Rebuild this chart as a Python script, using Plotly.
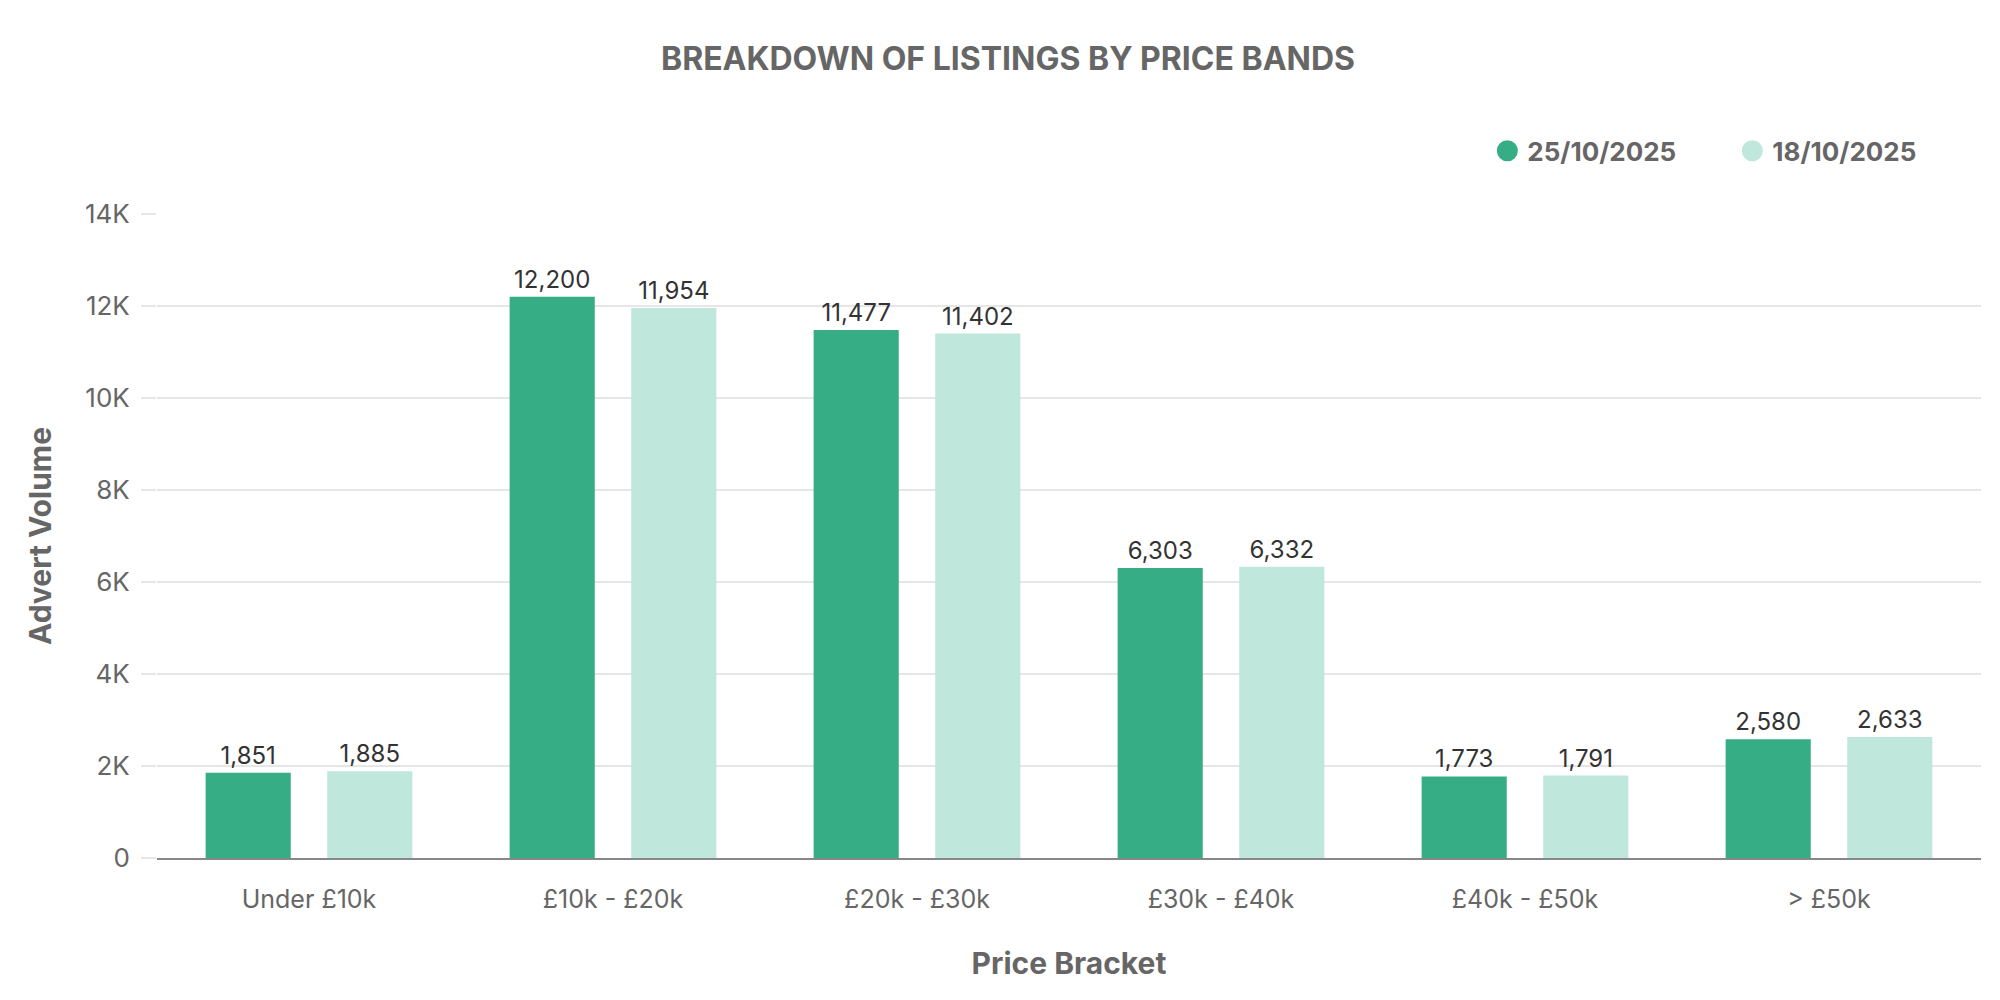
import plotly.graph_objects as go

# price bands and advert counts for the two snapshot dates
brackets = ["Under £10k", "£10k - £20k", "£20k - £30k", "£30k - £40k", "£40k - £50k", "> £50k"]
week_25_oct = [1851, 12200, 11477, 6303, 1773, 2580]
week_18_oct = [1885, 11954, 11402, 6332, 1791, 2633]
series_names = ["25/10/2025", "18/10/2025"]
y_ticks = [0, 2000, 4000, 6000, 8000, 10000, 12000, 14000]
y_tick_text = ["0", "2K", "4K", "6K", "8K", "10K", "12K", "14K"]

dark = "#36ad84"
light = "#bfe7dc"
font = "Inter"

fig = go.Figure()
for vals, col in [(week_25_oct, dark), (week_18_oct, light)]:
    fig.add_trace(go.Bar(
        x=brackets, y=vals,
        marker=dict(color=col, line=dict(width=0)),
        text=["{:,}".format(v) for v in vals],
        textposition="outside",
        textfont=dict(family=font, size=24, color="#333333"),
        cliponaxis=False,
        showlegend=False,
    ))

# circle markers for the legend (outline makes the dot a bit bigger)
for name, col in zip(series_names, [dark, light]):
    fig.add_trace(go.Scatter(
        x=[None], y=[None], mode="markers", name=name,
        marker=dict(color=col, size=24, symbol="circle", line=dict(color=col, width=5)),
    ))

fig.update_layout(
    width=2000, height=1000,
    paper_bgcolor="white", plot_bgcolor="white",
    margin=dict(l=149, r=27, t=206, b=150),
    barmode="group", bargap=0.2, bargroupgap=0.3,
    font=dict(family=font, color="#666666"),
    title=dict(text="<b>BREAKDOWN OF LISTINGS BY PRICE BANDS</b>",
               x=0.5, xanchor="center", y=0.949, yanchor="middle",
               font=dict(size=32, color="#666666")),
    legend=dict(orientation="h", x=0.998, xanchor="right", y=1.098, yanchor="middle",
                font=dict(size=26, color="#666666", weight="bold"),
                itemsizing="trace", itemwidth=30, entrywidth=200,
                bgcolor="rgba(0,0,0,0)"),
)
fig.update_xaxes(
    showgrid=False, showline=True, linecolor="#888888", linewidth=2,
    ticks="", ticklabelstandoff=18,
    tickfont=dict(size=25, color="#666666"),
    title=dict(text="<b>Price Bracket</b>", font=dict(size=30, color="#666666"), standoff=40),
)
fig.update_yaxes(
    range=[0, 14000], tickvals=y_ticks, ticktext=y_tick_text,
    showgrid=True, gridcolor="#e6e6e6", gridwidth=1.5, zeroline=False,
    ticks="outside", ticklen=15, tickcolor="#e6e6e6", tickwidth=1.5,
    ticklabelstandoff=6,
    tickfont=dict(size=26, color="#666666"),
    title=dict(text="<b>Advert Volume</b>", font=dict(size=30, color="#666666"), standoff=24),
)

fig.write_html("out.html")
